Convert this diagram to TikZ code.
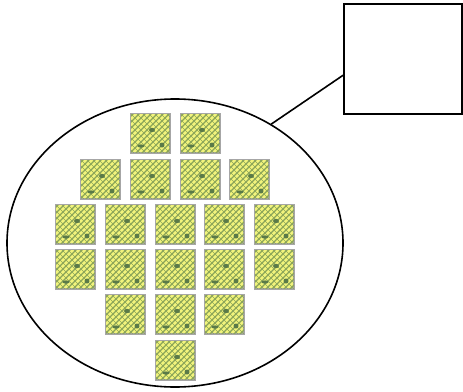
\documentclass[tikz,border=0pt]{standalone}
\usetikzlibrary{calc,shapes.geometric}
\definecolor{chipfill}{HTML}{F2F47C}
\definecolor{hatchc}{HTML}{8AA458}
\definecolor{blobc}{HTML}{5A7A48}
\begin{document}
\begin{tikzpicture}[x=1pt,y=-1pt,
  chip/.style={draw=gray!70,line width=0.6pt,fill=chipfill,minimum size=39pt,inner sep=0pt},
  hatch/.style={draw=hatchc,line width=1.1pt},
  blob/.style={fill=blobc,draw=none},
  outline/.style={draw=black,line width=1.6pt}]
\useasboundingbox (0,0) rectangle (463,391);
\node[outline,ellipse,minimum width=336pt,minimum height=288pt,inner sep=0pt] (e) at (175,243) {};
\node[outline,rectangle,minimum width=118pt,minimum height=110pt,inner sep=0pt] (b) at (403,59) {};
\coordinate (bj) at ($(b.south west)!0.355!(b.north west)$);
\draw[line width=1.6pt] (e.51) -- (bj);
\foreach \x/\y/\n in {150/133/a1,200/133/a2,
  100/179/b1,150/179/b2,200/179/b3,249/179/b4,
  75/224/c1,125/224/c2,175/224/c3,224/224/c4,274/224/c5,
  75/269/d1,125/269/d2,175/269/d3,224/269/d4,274/269/d5,
  125/314/f1,175/314/f2,224/314/f3,
  175/360/g1}
  \node[chip] (\n) at (\x,\y) {};
\foreach \n in {a1,a2,b1,b2,b3,b4,c1,c2,c3,c4,c5,d1,d2,d3,d4,d5,f1,f2,f3,g1}{
  \begin{scope}
    \clip (\n.south west) rectangle (\n.north east);
    \foreach \k in {-42,-36,...,42}{
      \draw[hatch] ($(\n.center)+(\k-25,25)$) -- ++(50,-50);
      \draw[hatch,line width=0.7pt] ($(\n.center)+(\k-25,-25)$) -- ++(50,50);
    }
    \fill[blob] ($(\n.center)+(2,-3)$) ellipse (3pt and 2.2pt);
    \fill[blob] ($(\n.center)+(-9,13)$) ellipse (3.5pt and 1.6pt);
    \fill[blob] ($(\n.center)+(12,12)$) ellipse (2.5pt and 2.5pt);
  \end{scope}
  \draw[draw=gray!70,line width=0.6pt] (\n.south west) rectangle (\n.north east);
}
\end{tikzpicture}
\end{document}
